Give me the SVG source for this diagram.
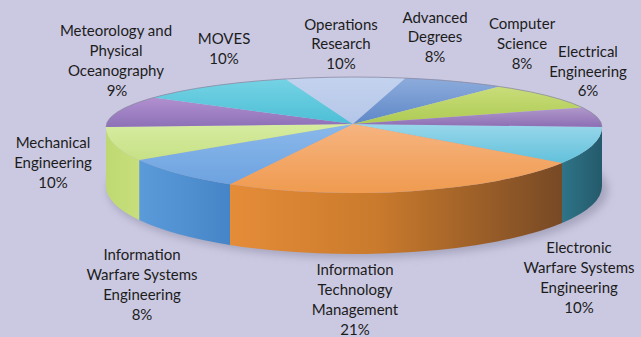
<svg xmlns="http://www.w3.org/2000/svg" width="641" height="337" viewBox="0 0 641 337">
<style>
.lbl{font-family:Lato,"Open Sans","Liberation Sans",sans-serif;font-size:15px;fill:#1c1c1c;text-anchor:middle}
.edge{fill:none;stroke:#8b8aa3;stroke-width:0.8}
</style>
<defs>
<filter id="blur" x="-20%" y="-50%" width="140%" height="200%"><feGaussianBlur stdDeviation="4"/></filter>
<linearGradient id="gOrangeSide" gradientUnits="userSpaceOnUse" x1="230" y1="0" x2="562" y2="0">
<stop offset="0" stop-color="#E58C38"/><stop offset="0.45" stop-color="#C97A2C"/><stop offset="1" stop-color="#774925"/></linearGradient>
<linearGradient id="gTealSide" gradientUnits="userSpaceOnUse" x1="562" y1="0" x2="602" y2="0">
<stop offset="0" stop-color="#2F7488"/><stop offset="1" stop-color="#245A6B"/></linearGradient>
<linearGradient id="gBlueSide" gradientUnits="userSpaceOnUse" x1="139" y1="0" x2="230" y2="0">
<stop offset="0" stop-color="#5C9BDA"/><stop offset="1" stop-color="#4585C7"/></linearGradient>
<linearGradient id="gGreenSide" gradientUnits="userSpaceOnUse" x1="106" y1="0" x2="139" y2="0">
<stop offset="0" stop-color="#BFD972"/><stop offset="1" stop-color="#C6DF7C"/></linearGradient>
<linearGradient id="gMet" gradientUnits="userSpaceOnUse" x1="0" y1="95" x2="0" y2="127">
<stop offset="0" stop-color="#B493D2"/><stop offset="1" stop-color="#8D70B7"/></linearGradient>
<linearGradient id="gMoves" gradientUnits="userSpaceOnUse" x1="0" y1="80" x2="0" y2="124">
<stop offset="0" stop-color="#74D2E4"/><stop offset="1" stop-color="#4DBFD6"/></linearGradient>
<linearGradient id="gOps" gradientUnits="userSpaceOnUse" x1="0" y1="78" x2="0" y2="124">
<stop offset="0" stop-color="#C3D2EE"/><stop offset="1" stop-color="#B4C6E8"/></linearGradient>
<linearGradient id="gAdv" gradientUnits="userSpaceOnUse" x1="0" y1="80" x2="0" y2="124">
<stop offset="0" stop-color="#8BAADB"/><stop offset="1" stop-color="#5E88C7"/></linearGradient>
<linearGradient id="gComp" gradientUnits="userSpaceOnUse" x1="0" y1="88" x2="0" y2="124">
<stop offset="0" stop-color="#C8DC78"/><stop offset="1" stop-color="#AECB54"/></linearGradient>
<linearGradient id="gElec" gradientUnits="userSpaceOnUse" x1="0" y1="106" x2="0" y2="126">
<stop offset="0" stop-color="#B39BCC"/><stop offset="1" stop-color="#8E70B5"/></linearGradient>
<linearGradient id="gEW" gradientUnits="userSpaceOnUse" x1="0" y1="125" x2="0" y2="165">
<stop offset="0" stop-color="#97D6EA"/><stop offset="1" stop-color="#5FC0DA"/></linearGradient>
<linearGradient id="gOrange" gradientUnits="userSpaceOnUse" x1="0" y1="124" x2="0" y2="190">
<stop offset="0" stop-color="#F6B480"/><stop offset="1" stop-color="#F09C52"/></linearGradient>
<linearGradient id="gInfoW" gradientUnits="userSpaceOnUse" x1="0" y1="124" x2="0" y2="184">
<stop offset="0" stop-color="#8AB8EA"/><stop offset="1" stop-color="#6EA3E0"/></linearGradient>
<linearGradient id="gMech" gradientUnits="userSpaceOnUse" x1="0" y1="124" x2="0" y2="160">
<stop offset="0" stop-color="#D6ECA0"/><stop offset="1" stop-color="#C7E186"/></linearGradient>
</defs>
<rect width="641" height="337" fill="#CBC9E1"/>
<ellipse cx="358" cy="190" rx="250" ry="68" fill="#8C8BA5" opacity="0.6" filter="url(#blur)"/>
<g id="sides">
<path id="side-ew" d="M602,127 A248,66 0 0 1 562,162.9 L562,223 A248,68 0 0 0 602,186 Z" fill="url(#gTealSide)"/>
<path id="side-itm" d="M562,162.9 A248,66 0 0 1 230,184.2 L230,244.9 A248,68 0 0 0 562,223 Z" fill="url(#gOrangeSide)"/>
<path id="side-iwse" d="M230,184.2 A248,66 0 0 1 139.2,160 L139.2,220 A248,68 0 0 0 230,244.9 Z" fill="url(#gBlueSide)"/>
<path id="side-me" d="M139.2,160 A248,66 0 0 1 106,127 L106,186 A248,68 0 0 0 139.2,220 Z" fill="url(#gGreenSide)"/>
</g>
<g id="slice-ew"><path d="M353,124 L602,127 A248,66 0 0 1 562,162.9 Z" fill="url(#gEW)"/></g>
<g id="slice-itm"><path d="M353,124 L562,162.9 A248,66 0 0 1 230,184.2 Z" fill="url(#gOrange)"/></g>
<g id="slice-iwse"><path d="M353,124 L230,184.2 A248,66 0 0 1 139.2,160 Z" fill="url(#gInfoW)"/></g>
<g id="slice-me"><path d="M353,124 L139.2,160 A248,66 0 0 1 106,127 Z" fill="url(#gMech)"/></g>
<g id="slice-met"><path d="M353,124 L106,127 A248,50 0 0 1 153.4,97.6 Z" fill="url(#gMet)"/></g>
<g id="slice-moves"><path d="M353,124 L153.4,97.6 A248,50 0 0 1 285.6,78.9 Z" fill="url(#gMoves)"/></g>
<g id="slice-or"><path d="M353,124 L285.6,78.9 A248,50 0 0 1 405.6,78.1 Z" fill="url(#gOps)"/></g>
<g id="slice-ad"><path d="M353,124 L405.6,78.1 A248,50 0 0 1 499.8,86.6 Z" fill="url(#gAdv)"/></g>
<g id="slice-cs"><path d="M353,124 L499.8,86.6 A248,50 0 0 1 582.3,107.5 Z" fill="url(#gComp)"/></g>
<g id="slice-ee"><path d="M353,124 L582.3,107.5 A248,50 0 0 1 602,127 Z" fill="url(#gElec)"/></g>
<path class="edge" d="M106,127 A248,50 0 0 1 602,127"/>
<g id="labels">
<text class="lbl" x="116" y="36">Meteorology and</text>
<text class="lbl" x="116" y="56">Physical</text>
<text class="lbl" x="116" y="76">Oceanography</text>
<text class="lbl" x="117" y="96">9%</text>
<text class="lbl" x="224" y="44">MOVES</text>
<text class="lbl" x="224" y="64">10%</text>
<text class="lbl" x="341" y="29.5">Operations</text>
<text class="lbl" x="341" y="49">Research</text>
<text class="lbl" x="341" y="68.5">10%</text>
<text class="lbl" x="435" y="22.7">Advanced</text>
<text class="lbl" x="435" y="42.3">Degrees</text>
<text class="lbl" x="435" y="62">8%</text>
<text class="lbl" x="522" y="29.3">Computer</text>
<text class="lbl" x="522" y="49">Science</text>
<text class="lbl" x="522" y="68.5">8%</text>
<text class="lbl" x="588" y="57.3">Electrical</text>
<text class="lbl" x="588" y="77">Engineering</text>
<text class="lbl" x="588" y="96">6%</text>
<text class="lbl" x="53" y="148.3">Mechanical</text>
<text class="lbl" x="53" y="168">Engineering</text>
<text class="lbl" x="53" y="187.5">10%</text>
<text class="lbl" x="142" y="260">Information</text>
<text class="lbl" x="142" y="280">Warfare Systems</text>
<text class="lbl" x="142" y="300">Engineering</text>
<text class="lbl" x="142" y="320">8%</text>
<text class="lbl" x="355" y="275">Information</text>
<text class="lbl" x="355" y="295">Technology</text>
<text class="lbl" x="355" y="315">Management</text>
<text class="lbl" x="355" y="335">21%</text>
<text class="lbl" x="579" y="253.3">Electronic</text>
<text class="lbl" x="579" y="273">Warfare Systems</text>
<text class="lbl" x="579" y="293">Engineering</text>
<text class="lbl" x="579" y="312.5">10%</text>
</g>
</svg>
